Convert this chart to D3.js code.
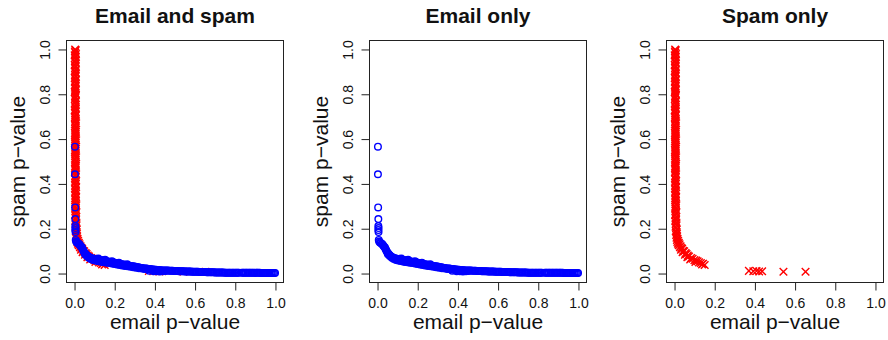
<!DOCTYPE html>
<html>
<head>
<meta charset="utf-8">
<script src="https://cdn.jsdelivr.net/npm/d3@7"></script>
<style>
  body { margin: 0; background: #fff; }
  svg { display: block; }
  text { font-family: "Liberation Sans", Arial, Helvetica, sans-serif; fill: #111; }
</style>
</head>
<body>
<svg id="chart" width="888" height="340"></svg>
<script>
// Panel titles and shared axis texts
const panelTitles = ["Email and spam", "Email only", "Spam only"];
const xTicks = [0, 0.2, 0.4, 0.6, 0.8, 1.0];
const yTicks = [0, 0.2, 0.4, 0.6, 0.8, 1.0];
const xLabel = "email p\u2212value";
const yLabel = "spam p\u2212value";

// Messages flagged as spam only: [email p-value, spam p-value]
const spamOnly = [
  [0.003,1.000],[0.006,0.996],[0.002,0.991],[0.004,0.985],[0.007,0.979],[0.001,0.974],[0.005,0.968],
  [0.003,0.962],[0.006,0.955],[0.002,0.949],[0.004,0.943],[0.007,0.937],[0.001,0.930],[0.005,0.924],
  [0.003,0.918],[0.006,0.911],[0.002,0.905],[0.004,0.899],[0.007,0.893],[0.003,0.886],[0.005,0.880],
  [0.001,0.873],[0.006,0.867],[0.004,0.861],[0.002,0.855],[0.007,0.848],[0.003,0.842],[0.005,0.836],
  [0.002,0.829],[0.006,0.823],[0.004,0.817],[0.001,0.810],[0.005,0.804],[0.007,0.798],[0.003,0.791],
  [0.004,0.785],[0.002,0.779],[0.006,0.772],[0.005,0.766],[0.003,0.760],[0.007,0.753],[0.002,0.747],
  [0.004,0.741],[0.006,0.734],[0.001,0.728],[0.005,0.722],[0.003,0.716],[0.007,0.709],[0.004,0.703],
  [0.002,0.697],[0.006,0.690],[0.005,0.684],[0.003,0.678],[0.008,0.671],[0.002,0.665],[0.004,0.659],
  [0.006,0.652],[0.003,0.646],[0.005,0.640],[0.007,0.633],[0.002,0.627],[0.004,0.621],[0.006,0.614],
  [0.003,0.608],[0.005,0.602],[0.008,0.595],[0.002,0.589],[0.004,0.583],[0.006,0.576],[0.003,0.570],
  [0.005,0.564],[0.007,0.557],[0.002,0.551],[0.004,0.545],[0.006,0.538],[0.003,0.532],[0.005,0.526],
  [0.008,0.519],[0.002,0.513],[0.004,0.507],[0.006,0.500],[0.003,0.494],[0.005,0.488],[0.007,0.481],
  [0.004,0.475],[0.002,0.469],[0.006,0.462],[0.005,0.456],[0.003,0.450],[0.008,0.443],[0.004,0.437],
  [0.006,0.431],[0.002,0.424],[0.005,0.418],[0.007,0.412],[0.003,0.405],[0.006,0.399],[0.004,0.393],
  [0.008,0.386],[0.002,0.380],[0.005,0.374],[0.007,0.367],[0.003,0.361],[0.006,0.355],[0.004,0.348],
  [0.008,0.342],[0.003,0.336],[0.005,0.329],[0.007,0.323],[0.004,0.317],[0.006,0.310],[0.009,0.304],
  [0.003,0.298],[0.005,0.291],[0.007,0.285],[0.004,0.279],[0.008,0.272],[0.006,0.266],[0.003,0.260],
  [0.009,0.253],[0.005,0.247],[0.007,0.241],[0.004,0.234],[0.009,0.228],[0.006,0.222],[0.010,0.215],
  [0.005,0.209],[0.008,0.203],[0.011,0.196],[0.006,0.190],[0.009,0.184],[0.012,0.178],[0.008,0.172],
  [0.013,0.166],[0.010,0.160],[0.015,0.155],[0.012,0.150],[0.018,0.146],[0.014,0.141],[0.021,0.137],
  [0.017,0.133],[0.025,0.130],[0.021,0.126],[0.030,0.122],[0.027,0.118],[0.034,0.114],[0.038,0.110],
  [0.032,0.106],[0.043,0.102],[0.048,0.099],[0.040,0.095],[0.055,0.091],[0.060,0.087],[0.052,0.084],
  [0.066,0.080],[0.072,0.076],[0.064,0.073],[0.082,0.069],[0.090,0.066],[0.078,0.063],[0.099,0.060],
  [0.108,0.058],[0.115,0.055],[0.104,0.052],[0.122,0.050],[0.131,0.047],[0.142,0.044],[0.137,0.041],
  [0.150,0.038],
  [0.370,0.012],[0.392,0.010],[0.408,0.011],[0.421,0.009],[0.436,0.010],[0.542,0.008],[0.652,0.008]
];

// Messages flagged as email only: [email p-value, spam p-value]
const emailOnly = [
  [0.002,0.566],[0.002,0.443],[0.003,0.295],[0.004,0.243],[0.004,0.212],[0.005,0.203],[0.004,0.194],
  [0.005,0.185],[0.006,0.150],[0.008,0.143],[0.012,0.139],
  [0.016,0.136],[0.021,0.133],[0.025,0.130],[0.029,0.124],[0.033,0.120],[0.037,0.116],[0.040,0.110],
  [0.043,0.104],[0.046,0.098],[0.050,0.093],[0.054,0.088],[0.058,0.084],[0.062,0.080],[0.066,0.077],
  [0.070,0.075],[0.075,0.072],[0.080,0.070],[0.085,0.068],[0.090,0.067],[0.095,0.066],
  [0.100,0.065],[0.106,0.064],[0.111,0.063],[0.118,0.062],[0.124,0.061],[0.129,0.060],[0.136,0.059],
  [0.141,0.058],[0.147,0.057],[0.154,0.056],[0.159,0.055],[0.165,0.054],[0.172,0.053],[0.177,0.052],
  [0.183,0.051],[0.190,0.050],[0.195,0.049],[0.201,0.048],[0.208,0.047],[0.213,0.045],[0.219,0.044],
  [0.226,0.043],[0.231,0.042],[0.237,0.041],[0.244,0.040],[0.249,0.039],[0.255,0.038],[0.262,0.037],
  [0.267,0.036],[0.273,0.035],[0.280,0.034],[0.285,0.033],[0.291,0.032],[0.298,0.031],[0.303,0.030],
  [0.309,0.029],[0.316,0.028],[0.321,0.027],[0.327,0.026],[0.334,0.025],[0.339,0.024],[0.345,0.023],
  [0.352,0.023],[0.357,0.022],[0.363,0.021],[0.370,0.020],[0.375,0.020],[0.381,0.019],[0.388,0.018],
  [0.393,0.018],[0.399,0.017],[0.406,0.017],[0.411,0.016],[0.417,0.016],[0.424,0.015],[0.429,0.015],
  [0.435,0.014],[0.442,0.014],[0.447,0.014],[0.453,0.013],[0.460,0.013],[0.465,0.013],[0.471,0.012],
  [0.478,0.012],[0.483,0.012],[0.489,0.012],[0.496,0.011],[0.501,0.011],[0.507,0.011],[0.514,0.011],
  [0.519,0.010],[0.525,0.010],[0.532,0.010],[0.537,0.010],[0.543,0.010],[0.550,0.009],[0.555,0.009],
  [0.561,0.009],[0.568,0.009],[0.573,0.009],[0.579,0.009],[0.586,0.008],[0.591,0.008],[0.597,0.008],
  [0.604,0.008],[0.609,0.008],[0.615,0.008],[0.622,0.007],[0.627,0.007],[0.633,0.007],[0.640,0.007],
  [0.645,0.007],[0.651,0.007],[0.658,0.006],[0.663,0.006],[0.669,0.006],[0.676,0.006],[0.681,0.006],
  [0.687,0.006],[0.694,0.006],[0.699,0.005],[0.705,0.005],[0.712,0.005],[0.717,0.005],[0.723,0.005],
  [0.730,0.005],[0.735,0.005],[0.741,0.005],[0.748,0.004],[0.753,0.004],[0.759,0.004],[0.766,0.004],
  [0.771,0.004],[0.777,0.004],[0.784,0.004],[0.789,0.004],[0.795,0.004],[0.802,0.004],[0.807,0.004],
  [0.813,0.004],[0.818,0.004],
  [0.832,0.003],[0.838,0.003],[0.843,0.003],[0.850,0.003],[0.855,0.003],[0.861,0.003],[0.868,0.003],
  [0.873,0.003],[0.879,0.003],[0.886,0.003],[0.891,0.003],[0.897,0.003],[0.904,0.003],[0.909,0.003],
  [0.915,0.003],[0.922,0.003],[0.927,0.002],[0.933,0.002],[0.940,0.002],[0.945,0.002],[0.951,0.002],
  [0.958,0.002],[0.963,0.002],[0.969,0.002],[0.976,0.002],[0.981,0.002],[0.987,0.002],[0.993,0.002],
  [0.998,0.002],
  [0.052,0.086],[0.061,0.078],[0.071,0.070],[0.081,0.065],[0.092,0.060],[0.103,0.058],[0.114,0.056],
  [0.126,0.054],[0.137,0.052],[0.149,0.050],[0.161,0.048],[0.173,0.047],[0.186,0.045],[0.198,0.043],
  [0.211,0.040],[0.224,0.038],[0.237,0.036],[0.251,0.034],[0.264,0.032],[0.278,0.030],[0.292,0.028],
  [0.306,0.026],[0.321,0.024],[0.336,0.022],[0.351,0.020],[0.367,0.018],[0.383,0.016],[0.399,0.015],
  [0.416,0.013],[0.433,0.012],[0.450,0.011],
  [0.372,0.012],[0.394,0.010],[0.410,0.010],[0.425,0.009],[0.440,0.010],
  [0.118,0.067],[0.152,0.061],[0.186,0.055],[0.221,0.048],[0.262,0.041]
];

// Which series each panel shows, in drawing order
const panelSeries = [["spam", "email"], ["email"], ["spam"]];
const seriesData = { spam: spamOnly, email: emailOnly };

// Layout
const panelLeft = [66, 369, 666];
const boxW = 217, boxTop = 40, boxBottom = 282;
const fmt = d3.format(".1f");

const svg = d3.select("#chart");

panelTitles.forEach((title, i) => {
  const left = panelLeft[i] + 0.5;
  const right = left + boxW;
  const top = boxTop + 0.5, bottom = boxBottom + 0.5;

  const x = d3.scaleLinear().domain([-0.04, 1.04]).range([left, right]);
  const y = d3.scaleLinear().domain([-0.04, 1.04]).range([bottom, top]);

  const g = svg.append("g");

  // points: red crosses for spam-only, blue open circles for email-only
  panelSeries[i].forEach(key => {
    const pts = seriesData[key];
    if (key === "spam") {
      const s = 3.8;
      g.append("g").selectAll("path").data(pts).join("path")
        .attr("d", d => {
          const cx = x(d[0]), cy = y(d[1]);
          return `M${cx - s},${cy - s}L${cx + s},${cy + s}M${cx - s},${cy + s}L${cx + s},${cy - s}`;
        })
        .attr("stroke", "#ff0000").attr("stroke-width", 1.4).attr("fill", "none");
    } else {
      g.append("g").selectAll("circle").data(pts).join("circle")
        .attr("cx", d => x(d[0])).attr("cy", d => y(d[1])).attr("r", 3.3)
        .attr("fill", "none").attr("stroke", "#0000ff").attr("stroke-width", 1.4);
    }
  });

  // frame
  g.append("rect")
    .attr("x", left).attr("y", top).attr("width", right - left).attr("height", bottom - top)
    .attr("fill", "none").attr("stroke", "#222").attr("stroke-width", 1);

  // x axis
  const xa = g.append("g").attr("transform", `translate(0,${bottom})`)
    .call(d3.axisBottom(x).tickValues(xTicks).tickSize(8).tickSizeOuter(0).tickFormat(fmt));
  xa.select(".domain").remove();
  xa.selectAll(".tick line").attr("stroke", "#222");
  xa.selectAll(".tick text").attr("y", 25).attr("dy", null)
    .style("font-size", "14px").attr("fill", "#111");

  // y axis
  const ya = g.append("g").attr("transform", `translate(${left},0)`)
    .call(d3.axisLeft(y).tickValues(yTicks).tickSize(8).tickSizeOuter(0).tickFormat(fmt));
  ya.select(".domain").remove();
  ya.selectAll(".tick line").attr("stroke", "#222");
  ya.selectAll(".tick text")
    .attr("x", null).attr("dy", null)
    .attr("transform", "translate(-16.5,0) rotate(-90)")
    .attr("text-anchor", "middle")
    .style("font-size", "14px").attr("fill", "#111");

  const cx = (left + right) / 2;
  const cy = (top + bottom) / 2;

  // title
  g.append("text").attr("x", cx).attr("y", 22.5).attr("text-anchor", "middle")
    .style("font-size", "21px").style("font-weight", "bold").text(title);

  // axis titles
  g.append("text").attr("x", cx).attr("y", 328.5).attr("text-anchor", "middle")
    .style("font-size", "21px").text(xLabel);
  g.append("text").attr("transform", `translate(${left - 42},${cy}) rotate(-90)`)
    .attr("text-anchor", "middle").style("font-size", "21px").text(yLabel);
});
</script>
</body>
</html>
